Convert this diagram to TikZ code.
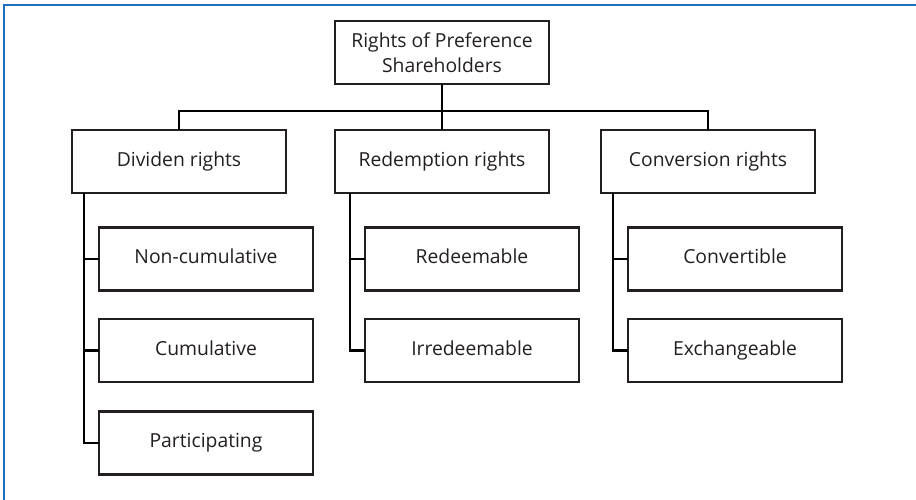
\documentclass[tikz,border=0pt]{standalone}
\usepackage{fontspec}
\setmainfont{Open Sans}
\usepackage{tikz}
\usetikzlibrary{positioning}

\definecolor{framebl}{RGB}{30,110,190}
\definecolor{ink}{RGB}{35,31,32}

\tikzset{
    rightbox/.style={draw=ink, line width=1.8pt, text=ink, minimum width=160.5pt,
        minimum height=47pt, inner sep=2pt, align=center,
        font=\fontsize{14.5}{19}\selectfont},
    leafbox/.style={rightbox, text height=1.8ex, text depth=0.4ex},
    tree/.style={draw=black, line width=1.8pt, line cap=rect}
}

\begin{document}
\begin{tikzpicture}[x=0.75pt, y=-0.75pt]
    \useasboundingbox (0,0) rectangle (916,499);

    % Frame (top and left edges only)
    \draw[framebl, line width=0.9pt] (4,500) -- (4,5) -- (917,5);

    % Root
    \node[rightbox] (root) at (442,52.5) {Rights of Preference\\Shareholders};

    % Kinds of rights
    \node[leafbox] (div) at (179,161.5) {Dividen rights};
    \node[leafbox] (red) at (442,161.5) {Redemption rights};
    \node[leafbox] (conv) at (708,161.5) {Conversion rights};

    % Dividend branch
    \node[leafbox] (noncum) at (206,259) {Non-cumulative};
    \node[leafbox] (cum) at (206,350.5) {Cumulative};
    \node[leafbox] (part) at (206,443) {Participating};

    % Redemption branch
    \node[leafbox] (redeem) at (472,259) {Redeemable};
    \node[leafbox] (irredeem) at (472,350.5) {Irredeemable};

    % Conversion branch
    \node[leafbox] (convert) at (735,259) {Convertible};
    \node[leafbox] (exch) at (735,350.5) {Exchangeable};

    % Bus from the root
    \coordinate (bus) at (442,111);
    \draw[tree] (root.south) -- (red.north);
    \draw[tree] (div.north) |- (bus) -| (conv.north);

    % Stems down the left of each group
    \coordinate (divstem) at ([xshift=9.75pt]div.south west);
    \coordinate (redstem) at ([xshift=12pt]red.south west);
    \coordinate (convstem) at ([xshift=9.75pt]conv.south west);

    \draw[tree] (divstem) |- (part.west);
    \draw[tree] (divstem |- noncum.west) -- (noncum.west);
    \draw[tree] (divstem |- cum.west) -- (cum.west);

    \draw[tree] (redstem) |- (irredeem.west);
    \draw[tree] (redstem |- redeem.west) -- (redeem.west);

    \draw[tree] (convstem) |- (exch.west);
    \draw[tree] (convstem |- convert.west) -- (convert.west);
\end{tikzpicture}
\end{document}
